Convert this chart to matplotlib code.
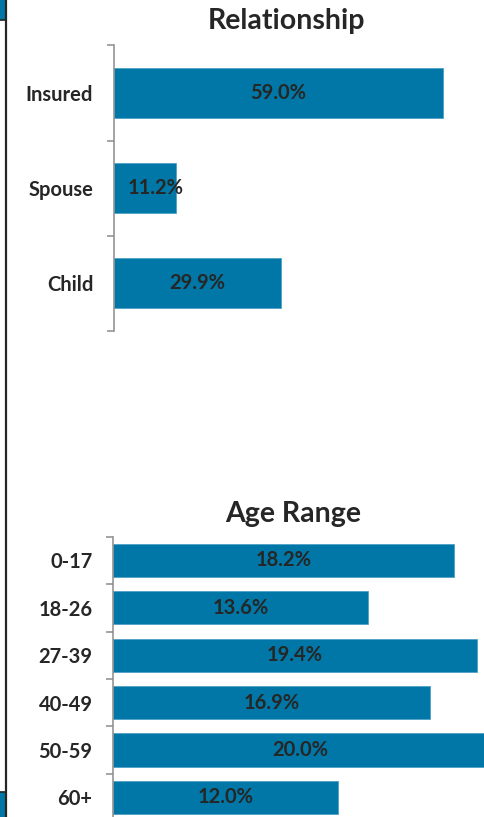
import numpy as np
import matplotlib
matplotlib.use("Agg")
from matplotlib import pyplot as plt
from matplotlib.patches import Rectangle
from matplotlib.lines import Line2D

rel_labels = ["Insured", "Spouse", "Child"]
rel_values = [59.0, 11.2, 29.9]

age_labels = ["0-17", "18-26", "27-39", "40-49", "50-59", "60+"]
age_values = [18.2, 13.6, 19.4, 16.9, 20.0, 12.0]

BAR = "#0077A6"
EDGE = "#4FA0C6"
TEXT = "#262626"
SPINE = "#8C8C8C"
FS = 14.5

plt.rcParams['font.family'] = ['Lato', 'DejaVu Sans']
plt.rcParams['font.weight'] = 'bold'

W, H = 485, 817
fig = plt.figure(figsize=(W / 100, H / 100), dpi=100)


def px_axes(left, top, right, bottom):
    return fig.add_axes([left / W, 1 - bottom / H, (right - left) / W, (bottom - top) / H])


def bar_panel(ax, labels, values, xmax, height, small_cut):
    n = len(labels)
    y = np.arange(n)
    ax.barh(y, values, height=height, color=BAR, edgecolor=EDGE, linewidth=0.6)
    ax.set_xlim(0, xmax)
    ax.set_ylim(n - 0.5, -0.5)
    for s in ['top', 'right', 'bottom']:
        ax.spines[s].set_visible(False)
    ax.spines['left'].set_color(SPINE)
    ax.spines['left'].set_linewidth(1.1)
    ax.set_xticks([])
    # ticks at category boundaries, labels at centres
    ax.set_yticks(np.arange(n + 1) - 0.5)
    ax.set_yticklabels([])
    ax.tick_params(axis='y', which='major', length=5, width=1.1, color=SPINE)
    ax.set_yticks(y, minor=True)
    ax.set_yticklabels(labels, minor=True, fontsize=FS, fontweight='bold', color=TEXT)
    ax.tick_params(axis='y', which='minor', length=0, pad=15)
    for i, v in enumerate(values):
        if v < small_cut:
            ax.annotate("{:.1f}%".format(v), (0, i), xytext=(9.5, 0), textcoords='offset points',
                        ha='left', va='center', fontsize=FS, fontweight='bold', color=TEXT)
        else:
            ax.text(v / 2, i, "{:.1f}%".format(v), ha='center', va='center',
                    fontsize=FS, fontweight='bold', color=TEXT, clip_on=False)


ax1 = px_axes(114, 45.3, 485, 331)
bar_panel(ax1, rel_labels, rel_values, 66.5, 0.525, 15)

ax2 = px_axes(113.3, 536.7, 506.8, 821.1)
bar_panel(ax2, age_labels, age_values, 21, 0.70, 0)

fig.text(287 / W, 1 - 21 / H, "Relationship", ha='center', va='center',
         fontsize=20.5, fontweight='bold', color=TEXT)
fig.text(293 / W, 1 - 514 / H, "Age Range", ha='center', va='center',
         fontsize=20.5, fontweight='bold', color=TEXT)

# left edge of neighbouring panel in the screenshot
fig.patches.append(Rectangle((0, 1 - 19 / H), 5 / W, 19 / H, transform=fig.transFigure,
                             color=BAR, zorder=0))
fig.patches.append(Rectangle((0, 0), 5 / W, 25 / H, transform=fig.transFigure,
                             color=BAR, zorder=0))
fig.lines.append(Line2D([6 / W, 6 / W], [0, 1], transform=fig.transFigure,
                        color="#262626", linewidth=1.6))
fig.lines.append(Line2D([0, 6 / W], [1 - 20 / H, 1 - 20 / H], transform=fig.transFigure,
                        color="#262626", linewidth=1.2))
fig.lines.append(Line2D([0, 6 / W], [25 / H, 25 / H], transform=fig.transFigure,
                        color="#262626", linewidth=1.2))

fig.savefig("out.png", dpi=100)
